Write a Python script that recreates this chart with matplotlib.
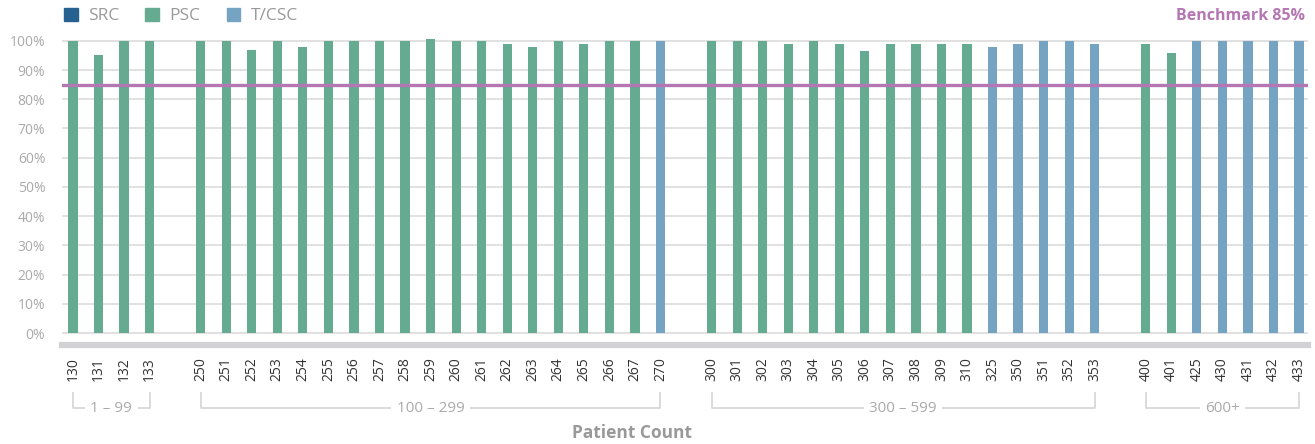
import numpy as np
import matplotlib.pyplot as plt
import matplotlib.transforms as mtransforms
from matplotlib.patches import Patch

plt.rcParams['font.family'] = ['Open Sans', 'DejaVu Sans']

# data
sites = ['130', '131', '132', '133',
         '250', '251', '252', '253', '254', '255', '256', '257', '258', '259',
         '260', '261', '262', '263', '264', '265', '266', '267', '270',
         '300', '301', '302', '303', '304', '305', '306', '307', '308', '309',
         '310', '325', '350', '351', '352', '353',
         '400', '401', '425', '430', '431', '432', '433']
values = [100, 95, 100, 100,
          100, 100, 97, 100, 98, 100, 100, 100, 100, 100.5,
          100, 100, 99, 98, 100, 99, 100, 100, 100,
          100, 100, 100, 99, 100, 99, 96.5, 99, 99, 99,
          99, 98, 99, 100, 100, 99,
          99, 96, 100, 100, 100, 100, 100]
types = ['PSC'] * 22 + ['T/CSC'] + ['PSC'] * 11 + ['T/CSC'] * 5 + ['PSC'] * 2 + ['T/CSC'] * 5
groups = ['1 – 99', '100 – 299', '300 – 599', '600+']
group_sizes = [4, 19, 16, 7]
benchmark = 85

colors = {'SRC': '#27618f', 'PSC': '#64ab91', 'T/CSC': '#75a3c2'}

# x positions: one empty slot between groups
pos = []
spans = []
x = 0
for n in group_sizes:
    spans.append((x, x + n - 1))
    pos += list(range(x, x + n))
    x += n + 1
pos = np.array(pos)

fig = plt.figure(figsize=(13.15, 4.44), dpi=100)
ax = fig.add_axes([62/1315, 1-345/444, (1308-62)/1315, 310/444])

ax.bar(pos, values, width=0.36, color=[colors[t] for t in types], zorder=3)
ax.axhline(benchmark, color='#b577b3', lw=2.4, zorder=4)

ax.set_xlim(-0.43, 48.35)
ax.set_ylim(-4.1, 102)
ax.set_yticks(np.arange(0, 101, 10))
ax.set_yticklabels(['{0}%'.format(v) for v in range(0, 101, 10)])
ax.grid(axis='y', color='#dedede', lw=1.3, zorder=0)
ax.set_xticks(pos)
ax.set_xticklabels(sites, rotation=90, fontsize=10, color='#333333')
ax.tick_params(axis='x', length=0, pad=9)
ax.tick_params(axis='y', length=0, pad=12, labelsize=10, labelcolor='#aaaaaa')
for s in ['top', 'right', 'left']:
    ax.spines[s].set_visible(False)
ax.spines['bottom'].set_color('#d2d2d4')
ax.spines['bottom'].set_linewidth(4.5)

# group brackets below tick labels
trans = mtransforms.blended_transform_factory(ax.transData, fig.transFigure)
y_top = 1 - 393/444
y_bot = 1 - 408/444
for (a, b), name in zip(spans, groups):
    ax.plot([a, a, b, b], [y_top, y_bot, y_bot, y_top], color='#d8d8d8', lw=1.3,
            transform=trans, clip_on=False)
    ax.text((a + b) / 2, y_bot, name, transform=trans, ha='center', va='center',
            fontsize=11, color='#aaaaaa',
            bbox=dict(facecolor='white', edgecolor='none', pad=4))

fig.text(632/1315, 1-433/444, 'Patient Count', ha='center', va='center',
         fontsize=12.5, fontweight='bold', color='#999999')

handles = [Patch(color=colors[k]) for k in ['SRC', 'PSC', 'T/CSC']]
fig.legend(handles, ['SRC', 'PSC', 'T/CSC'], loc='center left',
           bbox_to_anchor=(48/1315, 1-16/444), ncol=3, frameon=False,
           handlelength=0.8, handleheight=0.8, handletextpad=0.6,
           columnspacing=1.5, fontsize=12.5, labelcolor='#999999')

fig.text(1305/1315, 1-16/444, 'Benchmark 85%', ha='right', va='center',
         fontsize=11.5, fontweight='bold', color='#b577b3')

plt.savefig('out.png', dpi=100)
